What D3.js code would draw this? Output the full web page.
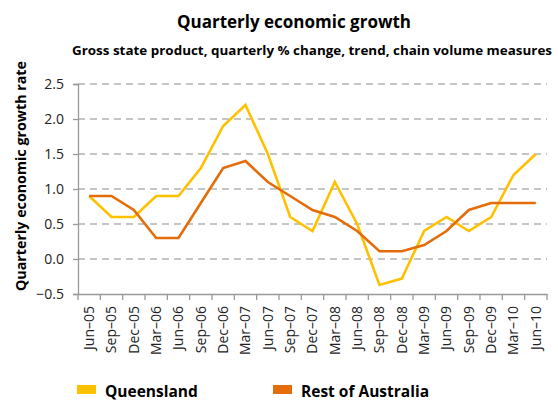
<!DOCTYPE html>
<html><head><meta charset="utf-8">
<script src="https://cdn.jsdelivr.net/npm/d3@7"></script>
<style>body{margin:0;background:#fff}svg{display:block}</style>
</head><body>
<script>
const categories = ["Jun\u201305","Sep\u201305","Dec\u201305","Mar\u201306","Jun\u201306","Sep\u201306","Dec\u201306","Mar\u201307","Jun\u201307","Sep\u201307","Dec\u201307","Mar\u201308","Jun\u201308","Sep\u201308","Dec\u201308","Mar\u201309","Jun\u201309","Sep\u201309","Dec\u201309","Mar\u201310","Jun\u201310"];
const queensland = [0.9,0.6,0.6,0.9,0.9,1.3,1.9,2.2,1.5,0.6,0.4,1.1,0.5,-0.37,-0.28,0.4,0.6,0.4,0.6,1.2,1.5];
const restOfAustralia = [0.9,0.9,0.7,0.3,0.3,0.8,1.3,1.4,1.1,0.9,0.7,0.6,0.4,0.11,0.11,0.2,0.4,0.7,0.8,0.8,0.8];
const yTicks = [-0.5,0,0.5,1,1.5,2,2.5];
const seriesNames = ["Queensland","Rest of Australia"];
const colors = ["#FFC000","#E46C0A"];

const W=558,H=401;
const svg=d3.select("body").append("svg").attr("width",W).attr("height",H);
const font="'Open Sans', sans-serif";
const x=d3.scaleBand().domain(categories).range([78,547]).padding(0);
const y=d3.scaleLinear().domain([-0.5,2.5]).range([294,84]);

svg.append("text").attr("x",294).attr("y",28).attr("text-anchor","middle")
 .style("font-family",font).style("font-weight","bold").style("font-size","17px").attr("fill","#000")
 .text("Quarterly economic growth");
svg.append("text").attr("x",312).attr("y",55).attr("text-anchor","middle")
 .style("font-family",font).style("font-weight","bold").style("font-size","12.5px").attr("fill","#000")
 .attr("textLength",480).attr("lengthAdjust","spacingAndGlyphs")
 .text("Gross state product, quarterly % change, trend, chain volume measures");

// gridlines
svg.append("g").selectAll("line").data(yTicks.filter(d=>d>-0.5)).join("line")
 .attr("x1",78).attr("x2",547).attr("y1",d=>y(d)).attr("y2",d=>y(d))
 .attr("stroke","#b3b3b3").attr("stroke-width",1.3).attr("stroke-dasharray","7,5");

// y axis
const ya=svg.append("g").attr("transform","translate(78,0)")
 .call(d3.axisLeft(y).tickValues(yTicks).tickFormat(d3.format(".1f")).tickSize(5));
ya.select(".domain").attr("stroke","#999").attr("stroke-width",1.3);
ya.selectAll(".tick line").attr("stroke","#999").attr("stroke-width",1.3);
ya.selectAll("text").style("font-family",font).style("font-size","14px").attr("fill","#222").attr("x",-14);

// x axis
const xa=svg.append("g").attr("transform","translate(0,294)")
 .call(d3.axisBottom(x).tickSize(0).tickSizeOuter(0));
xa.select(".domain").attr("stroke","#999").attr("stroke-width",1.3);
xa.selectAll("text").style("font-family",font).style("font-size","14px").attr("fill","#222")
 .attr("transform","rotate(-90)").attr("text-anchor","end").attr("x",-12).attr("y",0).attr("dy","0.35em");
const bounds=categories.map(c=>x(c)).concat([x.range()[1]]);
svg.append("g").selectAll("line").data(bounds).join("line")
 .attr("x1",d=>d).attr("x2",d=>d).attr("y1",294).attr("y2",300)
 .attr("stroke","#999").attr("stroke-width",1.3);

// y title
svg.append("text").attr("transform","translate(26,176) rotate(-90)").attr("text-anchor","middle")
 .style("font-family",font).style("font-weight","bold").style("font-size","15px").attr("fill","#000")
 .attr("textLength",230).attr("lengthAdjust","spacingAndGlyphs")
 .text("Quarterly economic growth rate");

// lines
const line=d3.line().x((d,i)=>x(categories[i])+x.bandwidth()/2).y(d=>y(d));
[queensland,restOfAustralia].forEach((s,k)=>{
 svg.append("path").datum(s).attr("d",line).attr("fill","none")
  .attr("stroke",colors[k]).attr("stroke-width",2.6).attr("stroke-linejoin","miter");
});

// legend
const lx=[77,273];
seriesNames.forEach((n,k)=>{
 svg.append("rect").attr("x",lx[k]).attr("y",385).attr("width",19).attr("height",9).attr("fill",colors[k]);
 svg.append("text").attr("x",lx[k]+28).attr("y",397).style("font-family",font).style("font-weight","bold")
  .style("font-size","15.5px").attr("fill","#000").text(n);
});
</script>
</body></html>
